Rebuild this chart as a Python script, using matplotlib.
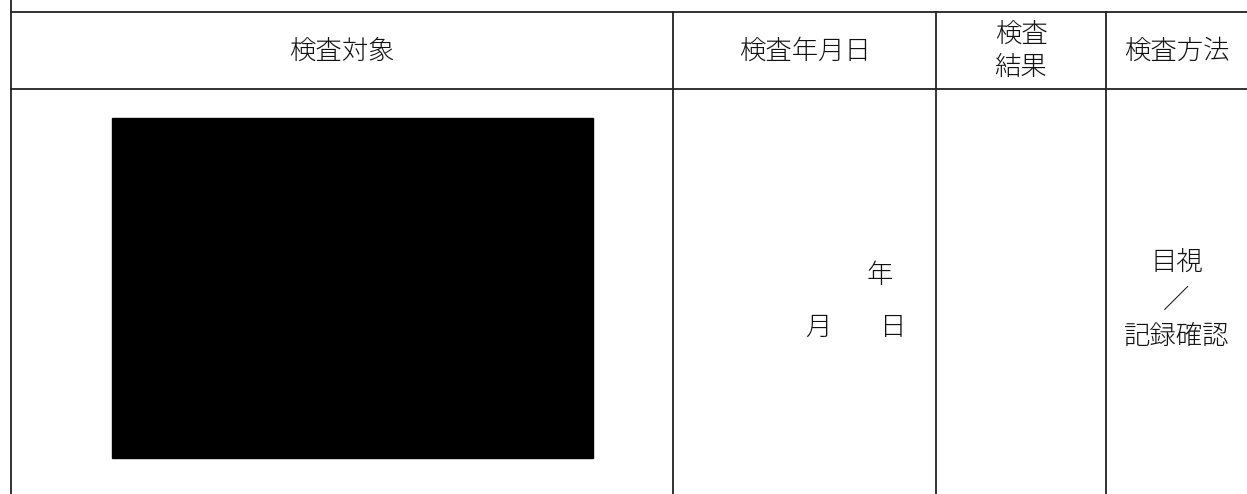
import matplotlib
matplotlib.use("Agg")
import matplotlib.pyplot as plt
from matplotlib.patches import Rectangle

plt.rcParams['font.family'] = ['Noto Sans CJK JP', 'DejaVu Sans']

# table layout (pixels)
col_edges = [11, 673, 936, 1106, 1247]
row_lines = [12, 89]
headers = ["検査対象", "検査年月日", "検査\n結果", "検査方法"]
date_text = [("年", 880, 275), ("月", 818, 327), ("日", 893, 327)]
method_text = [("目視", 262), ("／", 300), ("記録確認", 336)]
masked_box = (112, 118, 593, 458)  # x0, y0, x1, y1

W, H = 1247, 494
fig = plt.figure(figsize=(W / 100, H / 100), dpi=100)
ax = fig.add_axes([0, 0, 1, 1])
ax.set_xlim(0, W)
ax.set_ylim(H, 0)
ax.axis('off')

lc = '#222222'
for y in row_lines:
    ax.plot([col_edges[0], W], [y, y], color=lc, lw=1.3)
# left border runs full height
ax.plot([col_edges[0]] * 2, [0, H], color=lc, lw=1.3)
for x in col_edges[1:-1]:
    ax.plot([x, x], [row_lines[0], H], color=lc, lw=1.3)

fs = 19
tkw = dict(ha='center', va='center', fontsize=fs, color='#111111', fontweight='light')
for i, lab in enumerate(headers):
    cx = (col_edges[i] + col_edges[i + 1]) / 2
    ax.text(cx, (row_lines[0] + row_lines[1]) / 2, lab, linespacing=1.25, **tkw)

for t, x, y in date_text:
    ax.text(x, y, t, **tkw)

mx = (col_edges[3] + col_edges[4]) / 2
for t, y in method_text:
    ax.text(mx, y, t, **tkw)

x0, y0, x1, y1 = masked_box
ax.add_patch(Rectangle((x0, y0), x1 - x0, y1 - y0, color='black'))

fig.savefig('out.png', dpi=100)
